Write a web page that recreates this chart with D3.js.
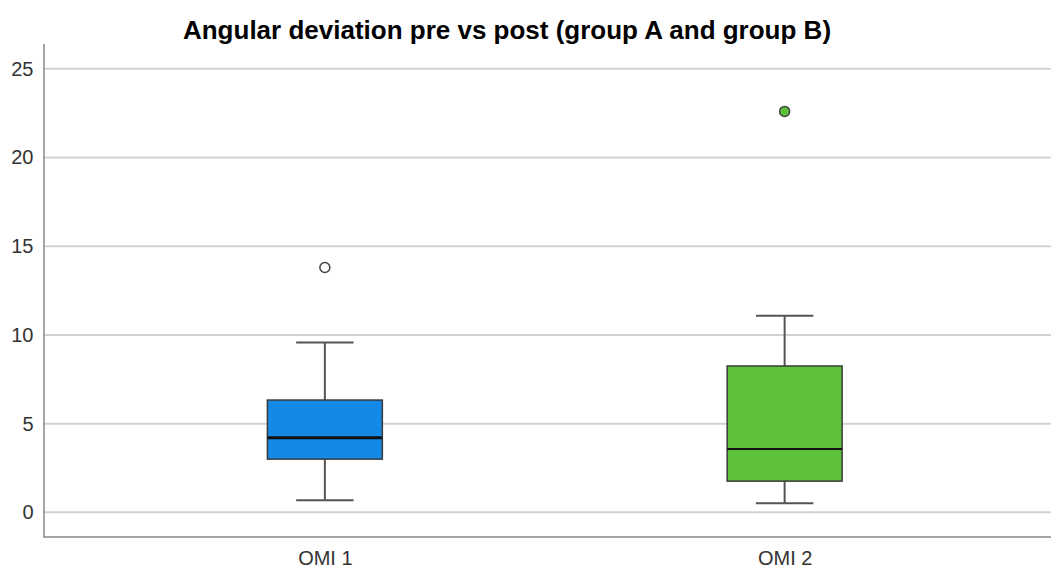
<!DOCTYPE html>
<html>
<head>
<meta charset="utf-8">
<script src="https://cdn.jsdelivr.net/npm/d3@7"></script>
<style>
  body { margin: 0; background: #fff; }
  svg { display: block; font-family: "Liberation Sans", Arial, sans-serif; }
</style>
</head>
<body>
<svg id="chart" width="1051" height="571"></svg>
<script>
// data
const groups = ["OMI 1", "OMI 2"];
const lowWhisker = [0.68, 0.51];
const q1 = [3.0, 1.76];
const median = [4.2, 3.57];
const q3 = [6.33, 8.25];
const highWhisker = [9.58, 11.08];
const outliers = [[13.8], [22.6]];
const fills = ["#1589e6", "#5dc23a"];
const outlierFills = ["#ffffff", "#5dc23a"];
const yTicks = [0, 5, 10, 15, 20, 25];

const width = 1051, height = 571;
const margin = { left: 43.5, top: 43.5, bottom: 34 };

const svg = d3.select("#chart");

const y = d3.scaleLinear()
  .domain([-1.39, 26.43])
  .range([height - margin.bottom, margin.top]);

const x = d3.scalePoint()
  .domain(groups)
  .range([margin.left, 1066])
  .padding(0.612);

const step = x.step();
const boxW = step * 0.25;
const capW = boxW / 2;

// gridlines
svg.append("g")
  .selectAll("line")
  .data(yTicks)
  .join("line")
  .attr("x1", margin.left)
  .attr("x2", width)
  .attr("y1", d => y(d))
  .attr("y2", d => y(d))
  .attr("stroke", "#d2d2d2")
  .attr("stroke-width", 2);

// y axis
const yAxis = svg.append("g")
  .attr("transform", "translate(" + margin.left + ",0)")
  .call(d3.axisLeft(y).tickValues(yTicks).tickSize(0).tickPadding(10));
yAxis.select(".domain").attr("stroke", "#888").attr("stroke-width", 1.5);
yAxis.selectAll("text").attr("font-size", 20).attr("fill", "#333")
  .attr("font-family", "Liberation Sans, Arial, sans-serif");

// x axis
const xAxis = svg.append("g")
  .attr("transform", "translate(0," + (height - margin.bottom) + ")")
  .call(d3.axisBottom(x).tickSize(0).tickPadding(14));
xAxis.select(".domain").attr("d", "M" + margin.left + ",0H" + width)
  .attr("stroke", "#888").attr("stroke-width", 1.5);
xAxis.selectAll("text").attr("font-size", 20).attr("fill", "#333")
  .attr("font-family", "Liberation Sans, Arial, sans-serif");

// boxes
const boxes = svg.append("g")
  .selectAll("g")
  .data(groups)
  .join("g");

boxes.append("line")
  .attr("x1", d => x(d)).attr("x2", d => x(d))
  .attr("y1", (d, i) => y(lowWhisker[i]))
  .attr("y2", (d, i) => y(highWhisker[i]))
  .attr("stroke", "#555").attr("stroke-width", 2);

boxes.selectAll("line.cap")
  .data((d, i) => [{ g: d, v: lowWhisker[i] }, { g: d, v: highWhisker[i] }])
  .join("line")
  .attr("class", "cap")
  .attr("x1", d => x(d.g) - capW / 2).attr("x2", d => x(d.g) + capW / 2)
  .attr("y1", d => y(d.v)).attr("y2", d => y(d.v))
  .attr("stroke", "#555").attr("stroke-width", 2);

boxes.append("rect")
  .attr("x", d => x(d) - boxW / 2)
  .attr("width", boxW)
  .attr("y", (d, i) => y(q3[i]))
  .attr("height", (d, i) => y(q1[i]) - y(q3[i]))
  .attr("fill", (d, i) => fills[i])
  .attr("stroke", "#3a3a3a").attr("stroke-width", 1.5);

boxes.append("line")
  .attr("x1", d => x(d) - boxW / 2).attr("x2", d => x(d) + boxW / 2)
  .attr("y1", (d, i) => y(median[i])).attr("y2", (d, i) => y(median[i]))
  .attr("stroke", "#111").attr("stroke-width", (d, i) => i === 0 ? 3 : 2);

boxes.selectAll("circle")
  .data((d, i) => outliers[i].map(v => ({ g: d, v: v, i: i })))
  .join("circle")
  .attr("cx", d => x(d.g))
  .attr("cy", d => y(d.v))
  .attr("r", 5)
  .attr("fill", d => outlierFills[d.i])
  .attr("stroke", "#444").attr("stroke-width", 1.5);

// title
svg.append("text")
  .attr("x", 507)
  .attr("y", 39)
  .attr("text-anchor", "middle")
  .attr("font-size", 26)
  .attr("font-weight", "bold")
  .attr("fill", "#000")
  .text("Angular deviation pre vs post (group A and group B)");
</script>
</body>
</html>
